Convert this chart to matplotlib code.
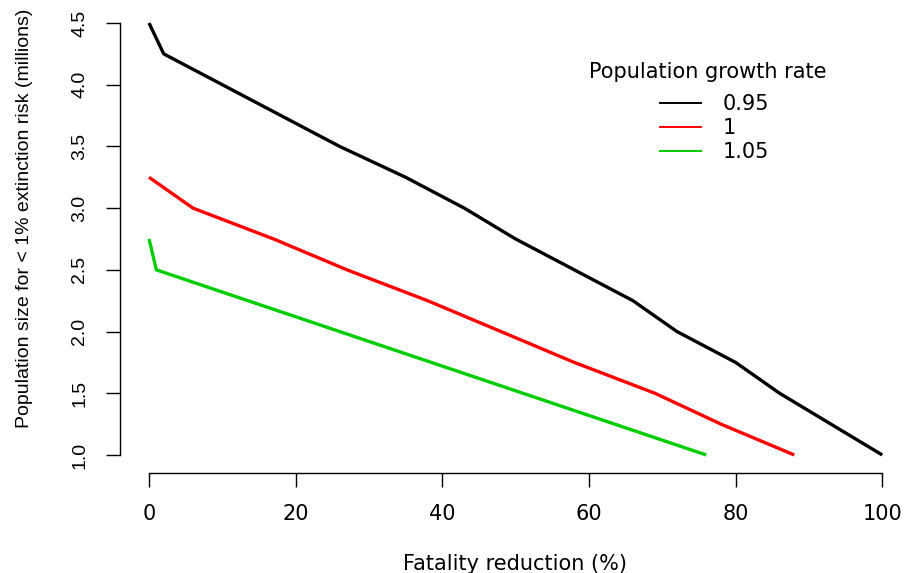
import matplotlib
matplotlib.use("Agg")
import matplotlib.pyplot as plt
from matplotlib.lines import Line2D

plt.rcParams['font.family'] = ['Liberation Sans', 'DejaVu Sans']

# fatality reduction (%) vs population size (millions) for < 1% extinction risk
x_095 = [0, 2, 26, 35, 43, 50, 66, 72, 80, 86, 100]
y_095 = [4.5, 4.25, 3.5, 3.25, 3.0, 2.75, 2.25, 2.0, 1.75, 1.5, 1.0]

x_100 = [0, 6, 17, 27, 38, 48, 58, 69, 78, 88]
y_100 = [3.25, 3.0, 2.75, 2.5, 2.25, 2.0, 1.75, 1.5, 1.25, 1.0]

x_105 = [0, 1, 76]
y_105 = [2.75, 2.5, 1.0]

rates = ["0.95", "1", "1.05"]
colors = ["black", "#FF0000", "#00CD00"]

x_ticks = [0, 20, 40, 60, 80, 100]
y_ticks = [1.0, 1.5, 2.0, 2.5, 3.0, 3.5, 4.0, 4.5]

# the original text is wider than it is tall, so horizontal text uses a wider face
wide = ['DejaVu Sans']

fig = plt.figure(figsize=(9.05, 5.73), dpi=100)
ax = fig.add_axes([120 / 905, 100 / 573, 785 / 905, 468 / 573])

series = [(x_095, y_095), (x_100, y_100), (x_105, y_105)]
for (xs, ys), c in zip(series, colors):
    ax.plot(xs, ys, color=c, linewidth=2.4, solid_capstyle='butt')

ax.set_xlim(-3.96, 103.1)
ax.set_ylim(0.854, 4.646)

for side in ['top', 'right']:
    ax.spines[side].set_visible(False)
ax.spines['bottom'].set_bounds(0, 100)
ax.spines['left'].set_bounds(1.0, 4.5)
ax.spines['bottom'].set_linewidth(1.0)
ax.spines['left'].set_linewidth(1.0)

ax.set_xticks(x_ticks)
ax.set_xticklabels([str(t) for t in x_ticks], family=wide, fontsize=15)
ax.set_yticks(y_ticks)
ax.set_yticklabels([f"{t:.1f}" for t in y_ticks], rotation=90, va='center',
                   fontsize=14)
ax.tick_params(axis='both', direction='out', length=10, width=1.0)
ax.tick_params(axis='y', pad=13)
ax.tick_params(axis='x', pad=12)

fig.text(515 / 905, 3 / 573, "Fatality reduction (%)",
         ha='center', va='baseline', fontsize=15, family=wide)
fig.text(25 / 905, 1 - 218 / 573,
         "Population size for < 1% extinction risk (millions)",
         ha='center', va='center', rotation=90, fontsize=14)

# legend title sits further above the entries than matplotlib's own spacing
fig.text(708 / 905, 1 - 72 / 573, "Population growth rate",
         ha='center', va='center', fontsize=15, family=wide)

handles = [Line2D([], [], color=c, linewidth=1.4) for c in colors]
leg = ax.legend(handles, rates,
                loc='center left', bbox_to_anchor=(660 / 905, 1 - 128 / 573),
                bbox_transform=fig.transFigure, frameon=False,
                prop={'family': wide, 'size': 15}, borderpad=0,
                borderaxespad=0, labelspacing=0.2, handlelength=1.97,
                handletextpad=1.05)

fig.savefig("out.png", dpi=100)
